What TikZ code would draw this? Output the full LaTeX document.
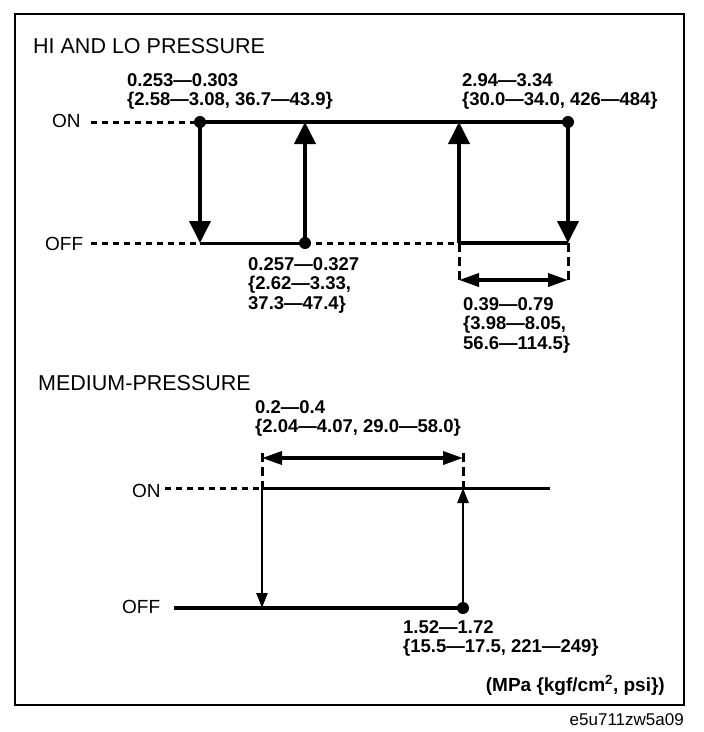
\documentclass[tikz,border=0pt]{standalone}
\usepackage{fontspec}
\setmainfont{Liberation Sans}
\usepackage{tikz}
\usetikzlibrary{arrows.meta}
\tikzset{
  ttl/.style={font=\fontsize{21.5}{24}\selectfont, inner sep=0pt, anchor=base west},
  lvl/.style={font=\fontsize{19}{20}\selectfont, inner sep=0pt, anchor=base west},
  val/.style={font=\bfseries\fontsize{18.5}{19.5}\selectfont, inner sep=0pt, anchor=north west, align=left},
  heavy/.style={line width=3.8pt},
  guide/.style={line width=3pt, dash pattern=on 6pt off 5pt},
  tick/.style={line width=3pt, dash pattern=on 9pt off 5pt},
  bigtip/.style={line width=3.8pt, -{Triangle[length=22pt,width=21pt]}},
  smalltip/.style={line width=2.5pt, -{Triangle[length=15pt,width=11pt]}},
  span/.style={line width=3.5pt, {Triangle[length=20pt,width=13pt]}-{Triangle[length=20pt,width=13pt]}}
}

\begin{document}
\begin{tikzpicture}[x=1pt,y=-1pt]
\useasboundingbox (0,0) rectangle (704,732);
\draw[line width=2pt] (15,14) rectangle (684,705);

% hi and lo pressure
\node[ttl] (hTitle) at (33,53) {HI AND LO PRESSURE};
\node[lvl] (hon) at (52,127) {ON};
\node[lvl] (hoff) at (45,250) {OFF};
\coordinate (hOn1) at (200,122);
\coordinate (hOn2) at (305,122);
\coordinate (hOn3) at (459,122);
\coordinate (hOn4) at (568,122);
\coordinate (hOff1) at (200,243);
\coordinate (hOff2) at (305,243);
\coordinate (hOff3) at (459,243);
\coordinate (hOff4) at (568,243);
\coordinate (hSp1) at (459,280);
\coordinate (hSp2) at (568,280);
\draw[guide] ([xshift=10pt]hon.east |- hOn1) -- (hOn1);
\draw[guide] ([xshift=8pt]hoff.east |- hOff1) -- (hOff1);
\draw[guide] (hOff2) -- (hOff3);
\draw[heavy] (hOn1) -- (hOn4);
\draw[line width=3pt] (hOff1) -- (hOff2);
\draw[heavy] (hOff3) -- (hOff4);
\draw[bigtip] (hOn1) -- (hOff1);
\draw[bigtip] (hOff2) -- (hOn2);
\draw[bigtip] (hOff3) -- (hOn3);
\draw[bigtip] (hOn4) -- (hOff4);
\fill (hOn1) circle (6pt);
\fill (hOn4) circle (6pt);
\fill (hOff2) circle (6pt);
\draw[tick] (hOff3) -- ([yshift=-4pt]hSp1);
\draw[tick] (hOff4) -- ([yshift=-4pt]hSp2);
\draw[span] (hSp1) -- (hSp2);
\node[val] (hv1) at (127,73) {0.253—0.303\\\{2.58—3.08, 36.7—43.9\}};
\node[val] (hv2) at (462,73) {2.94—3.34\\\{30.0—34.0, 426—484\}};
\node[val] (hv3) at (248,257) {0.257—0.327\\\{2.62—3.33,\\37.3—47.4\}};
\node[val] (hv4) at (463,297) {0.39—0.79\\\{3.98—8.05,\\56.6—114.5\}};

% medium pressure
\node[ttl] (mTitle) at (38,390) {MEDIUM-PRESSURE};
\node[lvl] (mon) at (132,497) {ON};
\node[lvl] (moff) at (122,613) {OFF};
\coordinate (mOn1) at (262,488);
\coordinate (mOn2) at (463,488);
\coordinate (mOn3) at (550,488);
\coordinate (mOff1) at (262,608);
\coordinate (mOff2) at (463,608);
\coordinate (mSp1) at (262,458);
\coordinate (mSp2) at (463,458);
\draw[guide] ([xshift=4pt]mon.east |- mOn1) -- (mOn1);
\draw[line width=3pt] (mOn1) -- (mOn3);
\draw[line width=4.5pt] ([xshift=14pt]moff.east |- mOff1) -- (mOff2);
\draw[smalltip] (mOn1) -- (mOff1);
\draw[smalltip] (mOff2) -- (mOn2);
\fill (mOff2) circle (6pt);
\draw[tick] ([yshift=5pt]mSp1) -- (mOn1);
\draw[tick] ([yshift=5pt]mSp2) -- (mOn2);
\draw[span] (mSp1) -- (mSp2);
\node[val] (mv1) at (255,400) {0.2—0.4\\\{2.04—4.07, 29.0—58.0\}};
\node[val] (mv2) at (403,620) {1.52—1.72\\\{15.5—17.5, 221—249\}};

\node[font=\bfseries\fontsize{19}{20}\selectfont, inner sep=0pt, anchor=base east] (unit) at (665,691) {(MPa \{kgf/cm\textsuperscript{2}, psi\})};
\node[font=\fontsize{17}{18}\selectfont, inner sep=0pt, anchor=base east] (code) at (684,725) {e5u711zw5a09};
\end{tikzpicture}
\end{document}
